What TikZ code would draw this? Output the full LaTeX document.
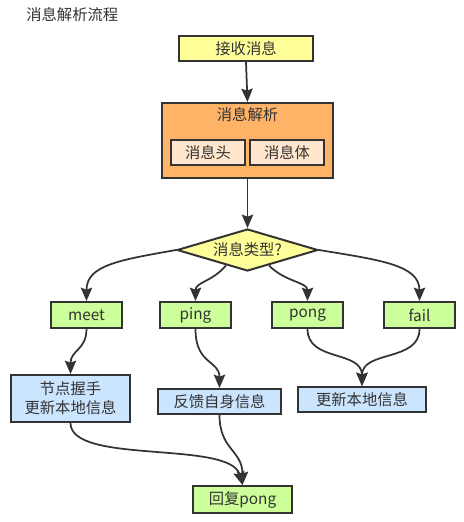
\documentclass[tikz,border=0pt]{standalone}
\usepackage{fontspec}
\setmainfont{Noto Sans CJK SC}
\usetikzlibrary{arrows.meta,shapes.geometric,calc}
\definecolor{bordc}{HTML}{333333}
\definecolor{txtc}{HTML}{333333}
\definecolor{yel}{HTML}{FFFF99}
\definecolor{ora}{HTML}{FFB366}
\definecolor{peach}{HTML}{FFE6CC}
\definecolor{grn}{HTML}{CCFF99}
\definecolor{blu}{HTML}{CCE5FF}
\tikzset{
  txtfont/.style={text=txtc, font=\fontsize{11.5pt}{14pt}\selectfont},
  box/.style={draw=bordc, line width=1.5pt, rectangle, inner sep=0pt, txtfont, align=center},
  yelbox/.style={box, fill=yel},
  grnbox/.style={box, fill=grn, minimum width=53.25pt, minimum height=19.5pt},
  blubox/.style={box, fill=blu},
  pbox/.style={box, fill=peach, minimum width=55.5pt, minimum height=18.75pt},
  arr/.style={draw=bordc, line width=1.3pt, -{Stealth[length=10pt,width=8.5pt,inset=1.5pt]}},
}
\begin{document}
\begin{tikzpicture}[x=0.75pt,y=-0.75pt]
\useasboundingbox (0,0) rectangle (464,522);
\fill[white] (0,0) rectangle (464,522);
\node[anchor=west, txtfont, inner sep=0pt] (title) at (26,15) {消息解析流程};
\node[yelbox, minimum width=100.5pt, minimum height=18.75pt] (recv) at (246,48.5) {接收消息};
\node[box, fill=ora, minimum width=128.25pt, minimum height=56.25pt] (parse) at (247.5,140.5) {};
\node[txtfont, inner sep=0pt] (ptitle) at (247.5,115) {消息解析};
\node[pbox] (head) at (208,152.5) {消息头};
\node[pbox] (body) at (287,152.5) {消息体};
\node[draw=bordc, line width=1.5pt, fill=yel, diamond, shape aspect=3.36, inner sep=0pt, minimum width=105.75pt, minimum height=31.5pt, txtfont] (dia) at (247.5,250) {消息类型?};
\node[grnbox] (meet) at (86.5,315) {meet};
\node[grnbox] (ping) at (195.5,315) {ping};
\node[grnbox] (pong) at (307.5,315) {pong};
\node[grnbox] (fail) at (419.5,315) {fail};
\node[blubox, minimum width=89.25pt, minimum height=35.25pt] (shake) at (70.5,398.5) {节点握手\\更新本地信息};
\node[blubox, minimum width=92.25pt, minimum height=18.75pt] (feed) at (219.5,401.5) {反馈自身信息};
\node[blubox, minimum width=96pt, minimum height=18.75pt] (upd) at (362,399.5) {更新本地信息};
\node[box, fill=grn, minimum width=74.25pt, minimum height=20.25pt] (reply) at (242.5,499.5) {回复pong};
\coordinate (dpl) at ($(dia.south)!0.3!(dia.west)$);
\coordinate (dpr) at ($(dia.south)!0.3!(dia.east)$);
\draw[arr] (recv.south) -- (parse.north);
\draw[arr] (parse.south) -- (dia.north);
\draw[arr] (dia.west) .. controls (120,260) and (86.5,265) .. (meet.north);
\draw[arr] (dpl) .. controls (212,282) and (195.5,282) .. (ping.north);
\draw[arr] (dpr) .. controls (285,282) and (307.5,282) .. (pong.north);
\draw[arr] (dia.east) .. controls (380,260) and (419.5,265) .. (fail.north);
\draw[arr] (meet.south) .. controls (86.5,350) and (70.5,350) .. (shake.north);
\draw[arr] (ping.south) .. controls (195.5,365) and (219.5,360) .. (feed.north);
\draw[arr] (pong.south) .. controls (307.5,362) and (362,350) .. (upd.north);
\draw[arr] (fail.south) .. controls (419.5,362) and (362,350) .. (upd.north);
\draw[arr] (shake.south) .. controls (70.5,465) and (230,440) .. (reply.north);
\draw[arr] (feed.south) .. controls (219.5,450) and (242.5,450) .. (reply.north);
\end{tikzpicture}
\end{document}
